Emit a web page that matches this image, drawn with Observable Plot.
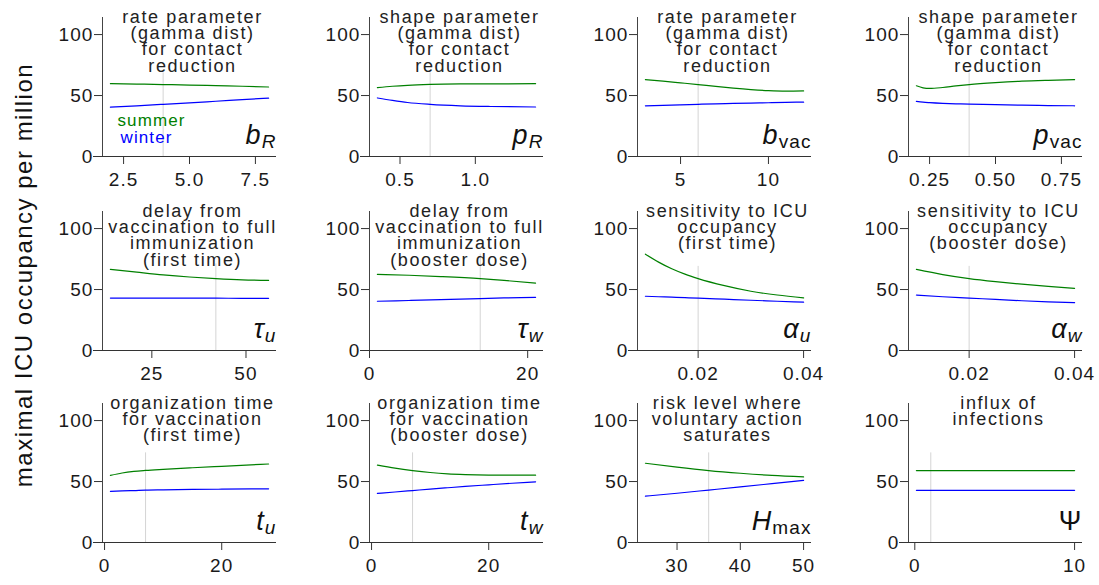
<!DOCTYPE html>
<html><head><meta charset="utf-8">
<script src="https://cdn.jsdelivr.net/npm/d3@7"></script>
<script src="https://cdn.jsdelivr.net/npm/@observablehq/plot@0.6"></script>
<style>
body{margin:0;background:#fff;}
#fig{position:relative;width:1099px;height:585px;overflow:hidden;font-family:"Liberation Sans",Arial,sans-serif;background:#fff;}
.panel{position:absolute;}
.panel text{letter-spacing:1.1px;}
.panel .ptitle text{letter-spacing:1.6px;}
#ylab{position:absolute;left:0;top:0;}
</style></head><body><div id="fig"></div>
<script>
// ---------- data ----------
const seriesNames = ["summer", "winter"];
const seriesColors = ["#008000", "#0000ff"];

const bR_x = [2, 3, 4, 5, 6, 7, 8];
const bR_summer = [59.7, 59.4, 59.0, 58.6, 58.1, 57.6, 57.0];
const bR_winter = [40.5, 41.6, 42.8, 44.0, 45.3, 46.6, 47.9];

const pR_x = [0.35, 0.45, 0.55, 0.7, 0.9, 1.1, 1.4];
const pR_summer = [56.5, 57.6, 58.4, 59.1, 59.5, 59.6, 59.7];
const pR_winter = [48.0, 46.0, 44.3, 42.8, 41.6, 41.0, 40.6];

const bvac_x = [3, 4, 5, 6, 7, 8, 9, 10, 11, 12];
const bvac_summer = [63.0, 61.8, 60.4, 59.0, 57.5, 56.1, 54.9, 54.0, 53.6, 53.8];
const bvac_winter = [41.6, 42.0, 42.4, 42.8, 43.2, 43.5, 43.8, 44.1, 44.4, 44.6];

const pvac_x = [0.2, 0.225, 0.25, 0.3, 0.35, 0.4, 0.5, 0.6, 0.7, 0.8];
const pvac_summer = [58.0, 56.3, 55.8, 56.6, 57.9, 59.0, 60.6, 61.8, 62.5, 63.0];
const pvac_winter = [45.2, 44.6, 44.2, 43.6, 43.2, 43.0, 42.5, 42.1, 41.8, 41.6];

const tauU_x = [14, 21, 28, 35, 42, 49, 56];
const tauU_summer = [66.5, 64.2, 62.0, 60.3, 59.0, 58.0, 57.5];
const tauU_winter = [43.0, 43.0, 43.0, 42.9, 42.9, 42.8, 42.8];

const tauW_x = [1, 5, 9, 14, 17, 21];
const tauW_summer = [62.4, 61.7, 60.6, 58.9, 57.5, 55.3];
const tauW_winter = [40.4, 41.0, 41.7, 42.6, 43.1, 43.6];

const alphaU_x = [0.01, 0.0125, 0.015, 0.0175, 0.02, 0.025, 0.03, 0.035, 0.04];
const alphaU_summer = [79.0, 72.5, 67.0, 62.6, 59.0, 53.2, 48.6, 45.5, 43.2];
const alphaU_winter = [44.5, 44.1, 43.7, 43.3, 43.0, 42.1, 41.2, 40.4, 39.6];

const alphaW_x = [0.01, 0.015, 0.02, 0.025, 0.03, 0.035, 0.04];
const alphaW_summer = [66.5, 62.3, 59.0, 56.5, 54.4, 52.6, 51.0];
const alphaW_winter = [45.5, 44.1, 43.0, 41.9, 40.8, 39.9, 39.2];

const tU_x = [1, 3, 5, 7, 10, 15, 20, 25, 28];
const tU_summer = [55.0, 57.0, 58.3, 59.1, 60.0, 61.3, 62.5, 63.7, 64.4];
const tU_winter = [42.0, 42.3, 42.6, 43.0, 43.2, 43.5, 43.7, 43.9, 44.0];

const tW_x = [1, 4, 7, 10, 13, 16, 20, 24, 28];
const tW_summer = [63.5, 61.0, 59.0, 57.4, 56.3, 55.7, 55.3, 55.2, 55.2];
const tW_winter = [40.3, 41.4, 42.6, 43.8, 44.9, 46.0, 47.3, 48.6, 49.8];

const Hmax_x = [25, 30, 35, 40, 45, 50];
const Hmax_summer = [65.0, 61.8, 59.0, 56.8, 55.0, 53.8];
const Hmax_winter = [38.0, 40.4, 43.0, 45.6, 48.3, 51.0];

const Psi_x = [0.1, 1, 2, 4, 6, 8, 10];
const Psi_summer = [59.0, 59.0, 59.0, 59.0, 59.0, 59.0, 59.0];
const Psi_winter = [42.8, 42.8, 42.8, 42.8, 42.8, 42.8, 42.8];

const panelX = [bR_x, pR_x, bvac_x, pvac_x, tauU_x, tauW_x, alphaU_x, alphaW_x, tU_x, tW_x, Hmax_x, Psi_x];
const panelSummer = [bR_summer, pR_summer, bvac_summer, pvac_summer, tauU_summer, tauW_summer, alphaU_summer, alphaW_summer, tU_summer, tW_summer, Hmax_summer, Psi_summer];
const panelWinter = [bR_winter, pR_winter, bvac_winter, pvac_winter, tauU_winter, tauW_winter, alphaU_winter, alphaW_winter, tU_winter, tW_winter, Hmax_winter, Psi_winter];

// default (reference) parameter values
const refValues = [4, 0.7, 6, 0.4, 42, 14, 0.02, 0.02, 7, 7, 35, 1];
const refTops = [68.5, 68.5, 68.5, 68.5, 71, 79, 69, 69, 73.5, 73.5, 73.5, 73.5];

const titles = [
  "rate parameter\n(gamma dist)\nfor contact\nreduction",
  "shape parameter\n(gamma dist)\nfor contact\nreduction",
  "rate parameter\n(gamma dist)\nfor contact\nreduction",
  "shape parameter\n(gamma dist)\nfor contact\nreduction",
  "delay from\nvaccination to full\nimmunization\n(first time)",
  "delay from\nvaccination to full\nimmunization\n(booster dose)",
  "sensitivity to ICU\noccupancy\n(first time)",
  "sensitivity to ICU\noccupancy\n(booster dose)",
  "organization time\nfor vaccination\n(first time)",
  "organization time\nfor vaccination\n(booster dose)",
  "risk level where\nvoluntary action\nsaturates",
  "influx of\ninfections"
];
const symbols = ["b", "p", "b", "p", "τ", "τ", "α", "α", "t", "t", "H", "Ψ"];
const symbolItalic = [true, true, true, true, true, true, true, true, true, true, true, false];
const subscripts = ["R", "R", "vac", "vac", "u", "w", "u", "w", "u", "w", "max", ""];
const subscriptItalic = [true, true, false, false, true, true, true, true, true, true, false, false];

const xTicks = [[2.5, 5, 7.5], [0.5, 1.0], [5, 10], [0.25, 0.5, 0.75], [25, 50], [0, 20], [0.02, 0.04], [0.02, 0.04], [0, 20], [0, 20], [30, 40, 50], [0, 10]];
const xTickLabels = [["2.5", "5.0", "7.5"], ["0.5", "1.0"], ["5", "10"], ["0.25", "0.50", "0.75"], ["25", "50"], ["0", "20"], ["0.02", "0.04"], ["0.02", "0.04"], ["0", "20"], ["0", "20"], ["30", "40", "50"], ["0", "10"]];
const yTicks = [0, 50, 100];
const yMax = 114;
const yTitle = "maximal ICU occupancy per million";

// ---------- layout ----------
const fig = document.getElementById("fig");
const colX = [102, 369, 637, 908];
const rowTop = [17, 211, 403];
const frameW = 174, frameH = 139;
const M = {l: 60, r: 16, t: 15, b: 37};
const FONT = '"Liberation Sans", Arial, sans-serif';
const LS = 1.1; // letter spacing px

const ctx = document.createElement("canvas").getContext("2d");
function textW(s, size, italic) {
  ctx.font = `${italic ? "italic " : ""}${size}px "Liberation Sans", Arial, sans-serif`;
  return ctx.measureText(s).width + LS * s.length;
}

for (let i = 0; i < 12; i++) {
  const col = i % 4, row = Math.floor(i / 4);
  const xs = panelX[i];
  const lo = d3.min(xs), hi = d3.max(xs), pad = 0.05 * (hi - lo);
  const dom = [lo - pad, hi + pad];
  const data = [];
  xs.forEach((x, j) => data.push({x, v: panelSummer[i][j], s: seriesNames[0]}));
  xs.forEach((x, j) => data.push({x, v: panelWinter[i][j], s: seriesNames[1]}));
  const lab = new Map(xTicks[i].map((t, j) => [t, xTickLabels[i][j]]));
  const subW = subscripts[i] ? textW(subscripts[i], 19, subscriptItalic[i]) : 0;

  const marks = [
    Plot.ruleX([refValues[i]], {y1: 0, y2: refTops[i], stroke: "#d4d4d4", strokeWidth: 1}),
    Plot.ruleY([0], {insetLeft: -9, stroke: "#333", strokeWidth: 1}),
    Plot.ruleX([dom[0]], {stroke: "#444", strokeWidth: 1}),
    Plot.axisY({ticks: yTicks, tickSize: 8, tickPadding: 1, fontSize: 19, label: null, stroke: "#333"}),
    Plot.axisX({ticks: xTicks[i], tickFormat: d => lab.get(d), tickSize: 8, tickPadding: 8, fontSize: 19, label: null, stroke: "#333"}),
    Plot.line(data, {x: "x", y: "v", z: "s", stroke: "s", strokeWidth: 1.2, curve: "monotone-x"}),
    Plot.text([titles[i]], {frameAnchor: "top", dx: 3, dy: -6, lineAnchor: "top", lineHeight: 0.9, fontSize: 18, fill: "#222", className: "ptitle"}),
    Plot.text([symbols[i]], {frameAnchor: "bottom-right", textAnchor: "end", lineAnchor: "bottom", dx: -subW, dy: -13, fontSize: 27, fontStyle: symbolItalic[i] ? "italic" : "normal", fill: "#111"})
  ];
  if (subscripts[i]) {
    marks.push(Plot.text([subscripts[i]], {frameAnchor: "bottom-right", textAnchor: "end", lineAnchor: "bottom", dy: -9, fontSize: 19, fontStyle: subscriptItalic[i] ? "italic" : "normal", fill: "#111"}));
  }
  if (i === 0) {
    marks.push(Plot.text([seriesNames[0]], {frameAnchor: "bottom-left", textAnchor: "start", lineAnchor: "middle", dx: 15, dy: -36, fontSize: 17, fill: seriesColors[0]}));
    marks.push(Plot.text([seriesNames[1]], {frameAnchor: "bottom-left", textAnchor: "start", lineAnchor: "middle", dx: 18, dy: -19, fontSize: 17, fill: seriesColors[1]}));
  }

  const p = Plot.plot({
    width: M.l + frameW + M.r,
    height: M.t + frameH + M.b,
    marginLeft: M.l, marginRight: M.r, marginTop: M.t, marginBottom: M.b,
    x: {domain: dom},
    y: {domain: [0, yMax]},
    color: {domain: seriesNames, range: seriesColors},
    style: {fontFamily: FONT, fontSize: "19px", color: "#1a1a1a", background: "transparent", overflow: "visible"},
    marks
  });
  const div = document.createElement("div");
  div.className = "panel";
  div.style.left = (colX[col] - M.l) + "px";
  div.style.top = (rowTop[row] - M.t) + "px";
  div.appendChild(p);
  fig.appendChild(div);
}

// shared y-axis title
const ys = d3.create("svg").attr("id", "ylab").attr("width", 50).attr("height", 585);
ys.append("text")
  .attr("transform", "translate(32,275) rotate(-90)")
  .attr("text-anchor", "middle")
  .attr("font-family", FONT)
  .attr("font-size", 24)
  .attr("letter-spacing", "1.5px")
  .attr("fill", "#111")
  .text(yTitle);
fig.appendChild(ys.node());
</script></body></html>
